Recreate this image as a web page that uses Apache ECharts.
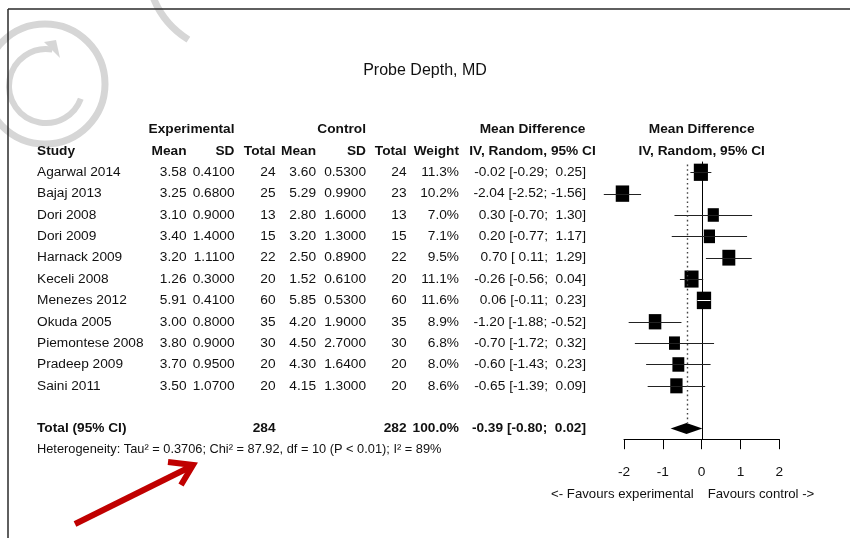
<!DOCTYPE html>
<html>
<head>
<meta charset="utf-8">
<script src="https://cdn.jsdelivr.net/npm/echarts/dist/echarts.min.js"></script>
<style>
  html, body { margin: 0; padding: 0; background: #fff; }
  #chart { width: 850px; height: 538px; }
</style>
</head>
<body>
<div id="chart"></div>
<script>
// ---- Study data: probe depth, mean difference (random effects) ----
const studies = ['Agarwal 2014', 'Bajaj 2013', 'Dori 2008', 'Dori 2009', 'Harnack 2009', 'Keceli 2008',
  'Menezes 2012', 'Okuda 2005', 'Piemontese 2008', 'Pradeep 2009', 'Saini 2011'];
const expMean = [3.58, 3.25, 3.10, 3.40, 3.20, 1.26, 5.91, 3.00, 3.80, 3.70, 3.50];
const expSD = [0.41, 0.68, 0.90, 1.40, 1.11, 0.30, 0.41, 0.80, 0.90, 0.95, 1.07];
const expN = [24, 25, 13, 15, 22, 20, 60, 35, 30, 20, 20];
const ctlMean = [3.60, 5.29, 2.80, 3.20, 2.50, 1.52, 5.85, 4.20, 4.50, 4.30, 4.15];
const ctlSD = [0.53, 0.99, 1.60, 1.30, 0.89, 0.61, 0.53, 1.90, 2.70, 1.64, 1.30];
const ctlN = [24, 23, 13, 15, 22, 20, 60, 35, 30, 20, 20];
const weights = [11.3, 10.2, 7.0, 7.1, 9.5, 11.1, 11.6, 8.9, 6.8, 8.0, 8.6];
const md = [-0.02, -2.04, 0.30, 0.20, 0.70, -0.26, 0.06, -1.20, -0.70, -0.60, -0.65];
const ciLow = [-0.29, -2.52, -0.70, -0.77, 0.11, -0.56, -0.11, -1.88, -1.72, -1.43, -1.39];
const ciHigh = [0.25, -1.56, 1.30, 1.17, 1.29, 0.04, 0.23, -0.52, 0.32, 0.23, 0.09];
const pooled = [-0.39, -0.80, 0.02];           // estimate, lower, upper
const totalN = [284, 282];                     // experimental, control
const totalWeight = 100.0;
const heterogeneity = 'Heterogeneity: Tau\u00B2 = 0.3706; Chi\u00B2 = 87.92, df = 10 (P < 0.01); I\u00B2 = 89%';
const axisTicks = [-2, -1, 0, 1, 2];
const title = 'Probe Depth, MD';
const favours = ['<- Favours experimental', 'Favours control ->'];

// ---- formatting helpers ----
const FONT = '"Liberation Sans", Arial, Helvetica, sans-serif';
const INK = '#111';
const fmtSigned = v => (v < 0 ? '' : ' ') + v.toFixed(2);
const ciText = (e, lo, hi) => e.toFixed(2) + ' [' + fmtSigned(lo) + '; ' + fmtSigned(hi) + ']';

const TOTAL_ROW = studies.length + 1;
const HET_ROW = TOTAL_ROW + 1;

// text column anchors (px)
const COL = { study: 37, expMean: 186.5, expSD: 234.5, expN: 275.5, ctlMean: 316, ctlSD: 366,
  ctlN: 406.5, weight: 459, ci: 586, ciHead: 532.5 };

function cell(text, x, align, bold, size) {
  return { text: text, x: x, align: align || 'right', bold: !!bold, size: size || 13.7 };
}

// rows of the table, keyed by their row position on the shared y scale
const tableRows = [];
tableRows.push({ row: -2, cells: [
  cell('Experimental', COL.expSD, 'right', true),
  cell('Control', COL.ctlSD, 'right', true),
  cell('Mean Difference', COL.ciHead, 'center', true),
  cell('Mean Difference', 'plot', 'center', true)
]});
tableRows.push({ row: -1, cells: [
  cell('Study', COL.study, 'left', true),
  cell('Mean', COL.expMean, 'right', true),
  cell('SD', COL.expSD, 'right', true),
  cell('Total', COL.expN, 'right', true),
  cell('Mean', COL.ctlMean, 'right', true),
  cell('SD', COL.ctlSD, 'right', true),
  cell('Total', COL.ctlN, 'right', true),
  cell('Weight', COL.weight, 'right', true),
  cell('IV, Random, 95% CI', COL.ciHead, 'center', true),
  cell('IV, Random, 95% CI', 'plot', 'center', true)
]});
studies.forEach((s, i) => {
  tableRows.push({ row: i, cells: [
    cell(s, COL.study, 'left'),
    cell(expMean[i].toFixed(2), COL.expMean),
    cell(expSD[i].toFixed(4), COL.expSD),
    cell(String(expN[i]), COL.expN),
    cell(ctlMean[i].toFixed(2), COL.ctlMean),
    cell(ctlSD[i].toFixed(4), COL.ctlSD),
    cell(String(ctlN[i]), COL.ctlN),
    cell(weights[i].toFixed(1) + '%', COL.weight),
    cell(ciText(md[i], ciLow[i], ciHigh[i]), COL.ci)
  ]});
});
tableRows.push({ row: TOTAL_ROW, cells: [
  cell('Total (95% CI)', COL.study, 'left', true),
  cell(String(totalN[0]), COL.expN, 'right', true),
  cell(String(totalN[1]), COL.ctlN, 'right', true),
  cell(totalWeight.toFixed(1) + '%', COL.weight, 'right', true),
  cell(ciText(pooled[0], pooled[1], pooled[2]), COL.ci, 'right', true)
]});
tableRows.push({ row: HET_ROW, cells: [cell(heterogeneity, COL.study, 'left', false, 12.8)] });

const chart = echarts.init(document.getElementById('chart'), null, { renderer: 'canvas' });

function textEl(c, x, y) {
  return {
    type: 'text',
    style: {
      text: c.text, x: x, y: y,
      fill: INK,
      fontFamily: FONT, fontSize: c.size, fontWeight: c.bold ? 'bold' : 'normal',
      textAlign: c.align, textVerticalAlign: 'middle',
      align: c.align, verticalAlign: 'middle'
    }
  };
}

const option = {
  animation: false,
  backgroundColor: '#fff',
  title: {
    text: title, left: 420, top: 58, textAlign: 'center',
    textStyle: { fontFamily: FONT, fontSize: 16, fontWeight: 'normal', color: INK }
  },
  grid: { left: 624, right: 70.7, top: 161.6, bottom: 98.8, containLabel: false },
  xAxis: {
    type: 'value', position: 'bottom',
    min: axisTicks[0], max: axisTicks[axisTicks.length - 1], interval: 1,
    axisLine: { show: true, onZero: false, lineStyle: { color: '#000', width: 1 } },
    axisTick: { show: true, length: 10, lineStyle: { color: '#000', width: 1 } },
    axisLabel: { margin: 26, color: INK, fontFamily: FONT, fontSize: 13.7 },
    splitLine: { show: false }
  },
  yAxis: { type: 'value', inverse: true, min: -0.5, max: TOTAL_ROW + 0.5, show: false },
  graphic: [
    // frame
    { type: 'line', z: 1, shape: { x1: 8, y1: 9, x2: 850, y2: 9 }, style: { stroke: '#2a2a2a', lineWidth: 1.5 } },
    { type: 'line', z: 1, shape: { x1: 8, y1: 9, x2: 8, y2: 538 }, style: { stroke: '#2a2a2a', lineWidth: 1.5 } },
    // faint watermark rings
    { type: 'circle', z: 0, shape: { cx: 45, cy: 84, r: 60 }, style: { fill: 'none', stroke: '#d6d6d6', lineWidth: 7 } },
    { type: 'arc', z: 0, shape: { cx: 46, cy: 86, r: 37, startAngle: -80 * Math.PI / 180, endAngle: 20 * Math.PI / 180, clockwise: false },
      style: { fill: 'none', stroke: '#d6d6d6', lineWidth: 6 } },
    { type: 'polygon', z: 0, shape: { points: [[44, 42], [60, 58], [56, 40]] }, style: { fill: '#d6d6d6' } },
    { type: 'arc', z: 0, shape: { cx: 235, cy: -35, r: 88, startAngle: 122 * Math.PI / 180, endAngle: 162 * Math.PI / 180, clockwise: true },
      style: { fill: 'none', stroke: '#d6d6d6', lineWidth: 7 } },
    // red pointer arrow
    { type: 'line', z: 5, shape: { x1: 75, y1: 524, x2: 190, y2: 467 }, style: { stroke: '#c00000', lineWidth: 6, lineCap: 'butt' } },
    { type: 'polyline', z: 5, shape: { points: [[168, 462], [193, 465], [181, 485]] }, style: { fill: 'none', stroke: '#c00000', lineWidth: 6, lineJoin: 'miter' } }
  ],
  series: [
    {
      // table text bound to the same row scale as the forest plot
      type: 'custom', name: 'table', clip: false, silent: true,
      data: tableRows.map(r => [0, r.row]),
      renderItem: function (params, api) {
        const r = tableRows[params.dataIndex];
        const p = api.coord([0, r.row]);
        return { type: 'group', children: r.cells.map(c => textEl(c, c.x === 'plot' ? p[0] : c.x, p[1])) };
      }
    },
    {
      // line of no effect
      type: 'custom', name: 'zero', clip: false, silent: true,
      data: [[0]],
      renderItem: function (params, api) {
        const a = api.coord([0, -0.5]);
        const b = api.coord([0, TOTAL_ROW + 0.5]);
        return { type: 'line', shape: { x1: Math.round(a[0]) + 0.5, y1: a[1], x2: Math.round(a[0]) + 0.5, y2: b[1] },
          style: { stroke: '#000', lineWidth: 1 } };
      }
    },
    {
      // study estimates: squares sized by weight, with 95% CI
      type: 'custom', name: 'studies', clip: false, silent: true, z: 3,
      data: studies.map((s, i) => [md[i], i, ciLow[i], ciHigh[i], weights[i]]),
      renderItem: function (params, api) {
        const e = api.value(0), row = api.value(1), lo = api.value(2), hi = api.value(3), w = api.value(4);
        const c = api.coord([e, row]);
        const l = api.coord([lo, row]);
        const h = api.coord([hi, row]);
        const sw = 4.2 * Math.sqrt(w);
        const sh = sw * 1.22;
        const inside = l[0] >= c[0] - sw / 2 && h[0] <= c[0] + sw / 2;
        const y = Math.round(c[1]) + 0.5;
        return { type: 'group', children: [
          { type: 'rect', shape: { x: c[0] - sw / 2, y: c[1] - sh / 2, width: sw, height: sh }, style: { fill: '#000' } },
          { type: 'line', shape: { x1: l[0], y1: y, x2: h[0], y2: y }, style: { stroke: inside ? '#fff' : '#222', lineWidth: 1 } }
        ]};
      }
    },
    {
      // pooled estimate: diamond, dotted reference line, favours captions
      type: 'custom', name: 'pooled', clip: false, silent: true, z: 3,
      data: [[pooled[0], TOTAL_ROW, pooled[1], pooled[2]]],
      renderItem: function (params, api) {
        const e = api.value(0), row = api.value(1);
        const c = api.coord([e, row]);
        const l = api.coord([api.value(2), row]);
        const h = api.coord([api.value(3), row]);
        const top = api.coord([e, -0.5]);
        const zero = api.coord([0, TOTAL_ROW + 0.5]);
        const dh = 5.5;
        const x = Math.round(c[0]) + 0.5;
        return { type: 'group', children: [
          { type: 'line', shape: { x1: x, y1: top[1] + 3, x2: x, y2: c[1] - dh },
            style: { stroke: '#444', lineWidth: 1.4, lineDash: [1.6, 3] } },
          { type: 'polygon', shape: { points: [[l[0], c[1]], [c[0], c[1] - dh], [h[0], c[1]], [c[0], c[1] + dh]] },
            style: { fill: '#000' } },
          { type: 'text', style: { text: favours[0], x: zero[0] - 8, y: zero[1] + 55, fill: INK, fontFamily: FONT, fontSize: 13.2,
            textAlign: 'right', textVerticalAlign: 'middle', align: 'right', verticalAlign: 'middle' } },
          { type: 'text', style: { text: favours[1], x: zero[0] + 6, y: zero[1] + 55, fill: INK, fontFamily: FONT, fontSize: 13.2,
            textAlign: 'left', textVerticalAlign: 'middle', align: 'left', verticalAlign: 'middle' } }
        ]};
      }
    }
  ]
};

chart.setOption(option);
</script>
</body>
</html>
